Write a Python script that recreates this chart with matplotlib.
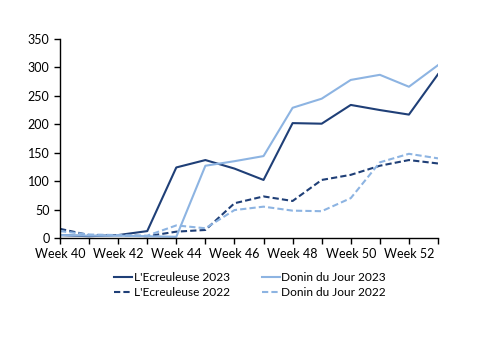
import numpy as np
import matplotlib
matplotlib.use("Agg")
import matplotlib.pyplot as plt

plt.rcParams['font.family'] = ['Lato', 'DejaVu Sans']

weeks = list(range(40, 54))
week_labels = [f"Week {w}" if w % 2 == 0 and w <= 52 else "" for w in weeks]

ecreuleuse_2023 = [5, 3, 5, 12, 124, 137, 122, 102, 202, 201, 234, 225, 217, 288]
donin_2023 = [5, 4, 4, 3, 2, 127, 135, 144, 229, 245, 278, 287, 266, 304]
ecreuleuse_2022 = [16, 5, 5, 3, 11, 14, 61, 73, 65, 102, 111, 127, 137, 131]
donin_2022 = [12, 6, 5, 4, 22, 17, 49, 55, 48, 47, 70, 133, 148, 140]

dark = "#1f3f77"
light = "#8db4e2"

fig = plt.figure(figsize=(5, 3.53), dpi=100)
ax = fig.add_axes([0.12, 0.326, 0.756, 0.5635])

x = np.arange(len(weeks))
ax.plot(x, ecreuleuse_2023, color=dark, lw=1.5, label="L'Ecreuleuse 2023")
ax.plot(x, ecreuleuse_2022, color=dark, lw=1.5, ls=(0, (3, 1.5)), label="L'Ecreuleuse 2022")
ax.plot(x, donin_2023, color=light, lw=1.5, label="Donin du Jour 2023")
ax.plot(x, donin_2022, color=light, lw=1.5, ls=(0, (3, 1.5)), label="Donin du Jour 2022")

ax.set_xlim(0, len(weeks) - 1)
ax.set_ylim(0, 350)
ax.set_yticks(range(0, 351, 50))
ax.set_xticks(x)
ax.set_xticklabels(week_labels)
ax.tick_params(axis='both', labelsize=9, length=4, width=1, colors='black', direction='out')
ax.tick_params(axis='x', pad=3)
for s in ['top', 'right']:
    ax.spines[s].set_visible(False)
for s in ['left', 'bottom']:
    ax.spines[s].set_linewidth(1)

fig.legend(loc='center', bbox_to_anchor=(0.5, 0.192), ncol=2, frameon=False,
           fontsize=8.6, handlelength=1.5, handletextpad=0.1, columnspacing=2.7,
           labelspacing=0.35)

fig.savefig("out.png", dpi=100)
